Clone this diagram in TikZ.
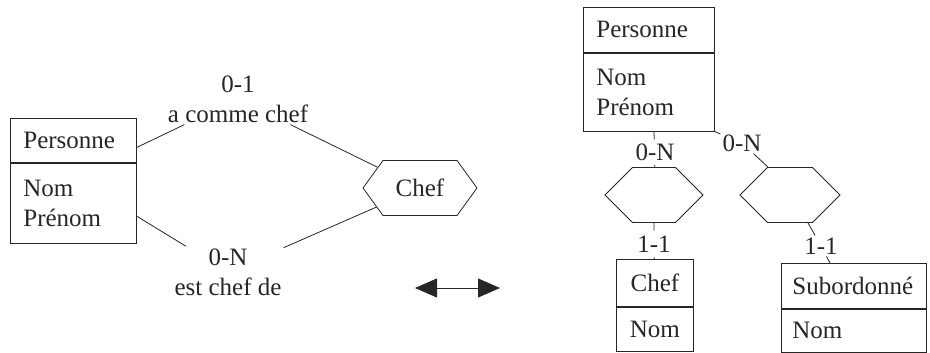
\documentclass[tikz,border=0pt]{standalone}
\usepackage{fontspec}
\setmainfont{Liberation Serif}
\usetikzlibrary{arrows.meta,shapes.symbols,positioning}
\definecolor{McdInk}{HTML}{262626}
\tikzset{
  mcd/texte/.style={font=\fontsize{25}{30}\selectfont, text=McdInk},
  mcd/entete/.style={
    mcd/texte, draw=McdInk, line width=.8pt, anchor=north west,
    inner xsep=13pt, inner ysep=0pt, align=left
  },
  mcd/corps/.style={mcd/entete, anchor=north},
  mcd/asso/.style={
    mcd/texte, draw=McdInk, line width=.8pt,
    signal, signal to=west and east, signal pointer angle=90,
    minimum height=55pt, inner sep=0pt
  },
  mcd/card/.style={mcd/texte, align=center, inner sep=2pt},
  mcd/lien/.style={draw=McdInk, line width=.8pt},
  mcd/fleche/.style={
    {Triangle[length=22pt,width=19pt]}-{Triangle[length=22pt,width=19pt]},
    draw=McdInk, line width=.8pt
  }
}

\begin{document}
\begin{tikzpicture}[x=1pt,y=-1pt]
  \useasboundingbox (0,0) rectangle (930,353);

  % reflexive association
  \node[mcd/entete, text width=100pt, minimum height=44pt] (persA-tete) at (10,118) {Personne};
  \node[mcd/corps, text width=100pt, minimum height=80pt] (persA-corps) at (persA-tete.south) {Nom\\Prénom};
  \node[mcd/asso, signal pointer angle=108, minimum width=114pt] (chefA) at (420,188) {Chef};
  \node[mcd/card] (cardA1) at (238,99) {0-1\\a comme chef};
  \node[mcd/card] (cardA2) at (228,272) {0-N\\est chef de};
  \draw[mcd/lien] ([yshift=-7pt]persA-tete.east) -- (cardA1) -- (chefA);
  \draw[mcd/lien] ([yshift=-13pt]persA-corps.east) -- (cardA2) -- (chefA);

  \coordinate (flecheG) at (415,288);
  \coordinate (flecheD) at (500,288);
  \draw[mcd/fleche] (flecheG) -- (flecheD);

  % split into two entities
  \node[mcd/entete, text width=105pt, minimum height=45pt] (persB-tete) at (583,7) {Personne};
  \node[mcd/corps, text width=105pt, minimum height=78pt] (persB-corps) at (persB-tete.south) {Nom\\Prénom};
  \node[mcd/asso, minimum width=98pt] (asso1) at (654,195) {};
  \node[mcd/asso, minimum width=100pt] (asso2) at (790,195) {};
  \node[mcd/entete, text width=51pt, align=center, minimum height=47pt] (chefB-tete) at (616,259) {Chef};
  \node[mcd/corps, text width=51pt, align=center, minimum height=44pt] (chefB-corps) at (chefB-tete.south) {Nom};
  \node[mcd/entete, inner xsep=11pt, text width=123pt, minimum height=45pt] (subB-tete) at (781,263) {Subordonné};
  \node[mcd/corps, inner xsep=11pt, text width=123pt, minimum height=43pt] (subB-corps) at (subB-tete.south) {Nom};

  \node[mcd/card, inner ysep=4pt] (cardB1) at (655,152) {0-N};
  \node[mcd/card] (cardB2) at (742,143) {0-N};
  \node[mcd/card, inner ysep=5pt] (cardB3) at (654,244) {1-1};
  \node[mcd/card] (cardB4) at (821,246) {1-1};
  \draw[mcd/lien] ([xshift=5pt]persB-corps.south) -- (cardB1) -- (asso1);
  \draw[mcd/lien] (persB-corps.south east) -- (cardB2) -- ([xshift=-22pt]asso2.north);
  \draw[mcd/lien] (asso1) -- (cardB3) -- (chefB-tete);
  \draw[mcd/lien] ([xshift=18pt]asso2.south) -- (cardB4) -- ([xshift=49pt]subB-tete.north west);
\end{tikzpicture}
\end{document}
